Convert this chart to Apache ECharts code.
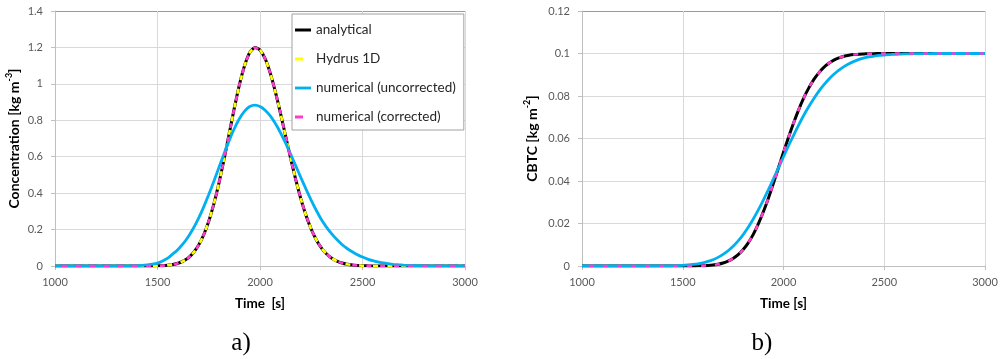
<!DOCTYPE html>
<html><head><meta charset="utf-8">
<script src="https://cdn.jsdelivr.net/npm/echarts@6/dist/echarts.min.js"></script>
<style>html,body{margin:0;padding:0;background:#fff}#c{width:1005px;height:359px}</style>
</head><body><div id="c"></div>
<script>
// Time [s]
const time = [1000,1100,1200,1300,1350,1400,1425,1450,1475,1500,1525,1550,1575,1600,1625,1650,1675,1700,1725,1750,1775,1800,1825,1850,1875,1900,1925,1950,1975,2000,2025,2050,2075,2100,2125,2150,2175,2200,2225,2250,2275,2300,2325,2350,2375,2400,2425,2450,2475,2500,2525,2550,2575,2600,2625,2650,2675,2700,2750,2800,2850,2900,3000];

// a) Concentration [kg m-3]
const analyticalConc = [0,0,0,0,0,0,0,0,0,0.001,0.002,0.0045,0.0084,0.0153,0.0268,0.045,0.0729,0.1134,0.17,0.2457,0.341,0.456,0.5875,0.728,0.868,0.997,1.101,1.172,1.2,1.186,1.138,1.059,0.956,0.838,0.713,0.588,0.471,0.366,0.276,0.2016,0.143,0.0985,0.0658,0.0426,0.0268,0.0164,0.0097,0.0056,0.0031,0.0017,0.0009,0.0004,0.0002,0.0001,0,0,0,0,0,0,0,0,0];
const hydrusConc = [0,0,0,0,0,0,0,0,0,0.001,0.002,0.0045,0.0084,0.0153,0.0268,0.045,0.0729,0.1134,0.17,0.2457,0.341,0.456,0.5875,0.728,0.868,0.997,1.101,1.172,1.2,1.186,1.138,1.059,0.956,0.838,0.713,0.588,0.471,0.366,0.276,0.2016,0.143,0.0985,0.0658,0.0426,0.0268,0.0164,0.0097,0.0056,0.0031,0.0017,0.0009,0.0004,0.0002,0.0001,0,0,0,0,0,0,0,0,0];
const uncorrectedConc = [0,0,0,0,0.0003,0.0015,0.003,0.006,0.01,0.016,0.028,0.043,0.0665,0.0911,0.1223,0.1608,0.2071,0.2615,0.3235,0.392,0.4656,0.5416,0.6176,0.6897,0.7549,0.8094,0.8504,0.8754,0.883,0.8755,0.8555,0.824,0.782,0.7316,0.6743,0.6127,0.5485,0.484,0.421,0.3606,0.3046,0.2536,0.212,0.176,0.145,0.118,0.096,0.078,0.062,0.049,0.038,0.029,0.022,0.017,0.013,0.0095,0.007,0.0052,0.0028,0.0014,0.0006,0.0002,0];
const correctedConc = [0,0,0,0,0,0,0,0,0,0.001,0.002,0.0045,0.0084,0.0153,0.0268,0.045,0.0729,0.1134,0.17,0.2457,0.341,0.456,0.5875,0.728,0.868,0.997,1.101,1.172,1.2,1.186,1.138,1.059,0.956,0.838,0.713,0.588,0.471,0.366,0.276,0.2016,0.143,0.0985,0.0658,0.0426,0.0268,0.0164,0.0097,0.0056,0.0031,0.0017,0.0009,0.0004,0.0002,0.0001,0,0,0,0,0,0,0,0,0];

// b) CBTC [kg m-2]
const analyticalCbtc = [0,0,0,0,0,0,0,0,0,0.00001,0.00002,0.00004,0.00008,0.00015,0.00027,0.00049,0.00084,0.0014,0.00226,0.00353,0.0053,0.00773,0.0109,0.0149,0.0198,0.0255,0.0319,0.0389,0.0462,0.0535,0.0606,0.0673,0.0735,0.079,0.0837,0.0877,0.0909,0.0935,0.0954,0.0969,0.0979,0.0987,0.0992,0.0995,0.0997,0.0998,0.0999,0.0999,0.1,0.1,0.1,0.1,0.1,0.1,0.1,0.1,0.1,0.1,0.1,0.1,0.1,0.1,0.1];
const uncorrectedCbtc = [0,0,0,0,0.00002,0.00005,0.00008,0.00013,0.0002,0.0003,0.00048,0.00072,0.00105,0.00152,0.00214,0.00297,0.00406,0.00544,0.00717,0.00928,0.0118,0.0148,0.0182,0.0221,0.0264,0.031,0.0359,0.041,0.0462,0.0514,0.0566,0.0615,0.0663,0.0708,0.0749,0.0787,0.0822,0.0852,0.0879,0.0902,0.0922,0.0938,0.0952,0.0963,0.0972,0.0979,0.0984,0.0988,0.0991,0.0993,0.0995,0.0996,0.0997,0.0998,0.0998,0.0999,0.0999,0.0999,0.1,0.1,0.1,0.1,0.1];
const correctedCbtc = [0,0,0,0,0,0,0,0,0,0.00001,0.00002,0.00004,0.00008,0.00015,0.00027,0.00049,0.00084,0.0014,0.00226,0.00353,0.0053,0.00773,0.0109,0.0149,0.0198,0.0255,0.0319,0.0389,0.0462,0.0535,0.0606,0.0673,0.0735,0.079,0.0837,0.0877,0.0909,0.0935,0.0954,0.0969,0.0979,0.0987,0.0992,0.0995,0.0997,0.0998,0.0999,0.0999,0.1,0.1,0.1,0.1,0.1,0.1,0.1,0.1,0.1,0.1,0.1,0.1,0.1,0.1,0.1];

const seriesNames = ['analytical','Hydrus 1D','numerical (uncorrected)','numerical (corrected)'];

const chart = echarts.init(document.getElementById('c'), null, {renderer:'canvas'});
function pairs(xs, ys){ return xs.map((x,i)=>[x, ys[i]]); }

const FONT = 'Lato';
function xAx(gi, name){
  return {type:'value', gridIndex:gi, min:1000, max:3000, interval:500,
    name:name, nameLocation:'middle', nameGap:31,
    nameTextStyle:{fontFamily:FONT, fontWeight:'bold', fontSize:13.5, color:'#000'},
    axisLine:{lineStyle:{color:'#bfbfbf', width:1}},
    axisTick:{show:true, length:4, lineStyle:{color:'#bfbfbf'}},
    axisLabel:{fontFamily:FONT, fontSize:11, color:'#595959', margin:11, formatter:function(v){return String(v);}},
    splitLine:{show:true, lineStyle:{color:'#d9d9d9', width:1}}};
}
function yAx(gi, max, interval, nameGap, nameParts, nLines){
  const cols = [];
  for(let i=0;i<nLines;i++) cols.push(i===nLines-1 ? '#9a9a9a' : '#d9d9d9');
  return {type:'value', gridIndex:gi, min:0, max:max, interval:interval,
    name:nameParts, nameLocation:'middle', nameGap:nameGap,
    nameTextStyle:{fontFamily:FONT, fontWeight:'bold', fontSize:14, color:'#000', lineHeight:18,
      rich:{sup:{fontFamily:FONT, fontWeight:'bold', fontSize:9, color:'#000', verticalAlign:'top', lineHeight:10}}},
    axisLine:{show:true, lineStyle:{color:'#bfbfbf', width:1}},
    axisTick:{show:true, length:4, lineStyle:{color:'#bfbfbf'}},
    axisLabel:{fontFamily:FONT, fontSize:11, color:'#595959', margin:12},
    splitLine:{show:true, lineStyle:{color:cols, width:1}}};
}

function line(name, gi, xs, ys, color, width, dash, offset){
  const ls = {color:color, width:width};
  if(dash){ ls.type = dash; ls.dashOffset = offset||0; }
  return {name:name, type:'line', xAxisIndex:gi, yAxisIndex:gi, data:pairs(xs, ys),
    showSymbol:false, symbol:'none', smooth:0.2, lineStyle:ls, itemStyle:{color:color},
    emphasis:{disabled:true}, clip:true};
}

const BLACK='#000000', YELLOW='#ffff00', BLUE='#00b0f0', PINK='#ff3ccb';
const ICON_SOLID3 = 'path://M0,0H16V3H0Z';
const ICON_SOLID25 = 'path://M0,0H16V2.8H0Z';
const ICON_DASH = 'path://M0,0H8V2.8H0ZM16,0L16,2.8L16,0Z';

chart.setOption({
  animation:false,
  backgroundColor:'#ffffff',
  grid:[
    {left:55, top:11, width:410, height:255, outerBoundsMode:'none'},
    {left:582, top:11, width:403, height:255, outerBoundsMode:'none'}
  ],
  xAxis:[xAx(0,'Time  [s]'), xAx(1,'Time [s]')],
  yAxis:[
    yAx(0, 1.4, 0.2, 32, 'Concentration [kg m{sup|-3}]', 8),
    yAx(1, 0.12, 0.02, 41, 'CBTC [kg m{sup|-2}]', 7)
  ],
  legend:{
    show:true, orient:'vertical', left:292, top:14,
    padding:[9,8,6,3], itemGap:15, itemWidth:16, itemHeight:14,
    backgroundColor:'#ffffff', borderColor:'#a0a0a0', borderWidth:1, borderRadius:0,
    textStyle:{fontFamily:FONT, fontSize:13.5, color:'#262626'},
    selectedMode:false, symbolKeepAspect:true,
    data:[
      {name:seriesNames[0], icon:ICON_SOLID3},
      {name:seriesNames[1], icon:ICON_DASH},
      {name:seriesNames[2], icon:ICON_SOLID25},
      {name:seriesNames[3], icon:ICON_DASH}
    ]
  },
  graphic:[
    {type:'text', style:{text:'a)', x:241, y:343, align:'center', verticalAlign:'middle', font:'25px "Liberation Serif"', fill:'#000'}},
    {type:'text', style:{text:'b)', x:762, y:343, align:'center', verticalAlign:'middle', font:'25px "Liberation Serif"', fill:'#000'}}
  ],
  series:[
    line(seriesNames[0], 0, time, analyticalConc, BLACK, 3),
    line(seriesNames[1], 0, time, hydrusConc, YELLOW, 2.6, [5,9], 0),
    line(seriesNames[2], 0, time, uncorrectedConc, BLUE, 2.8),
    line(seriesNames[3], 0, time, correctedConc, PINK, 2.6, [5,9], 7),
    line(seriesNames[0], 1, time, analyticalCbtc, BLACK, 3),
    line(seriesNames[2], 1, time, uncorrectedCbtc, BLUE, 2.8),
    line(seriesNames[3], 1, time, correctedCbtc, PINK, 2.6, [5,9], 7)
  ]
});
</script>
</body></html>
